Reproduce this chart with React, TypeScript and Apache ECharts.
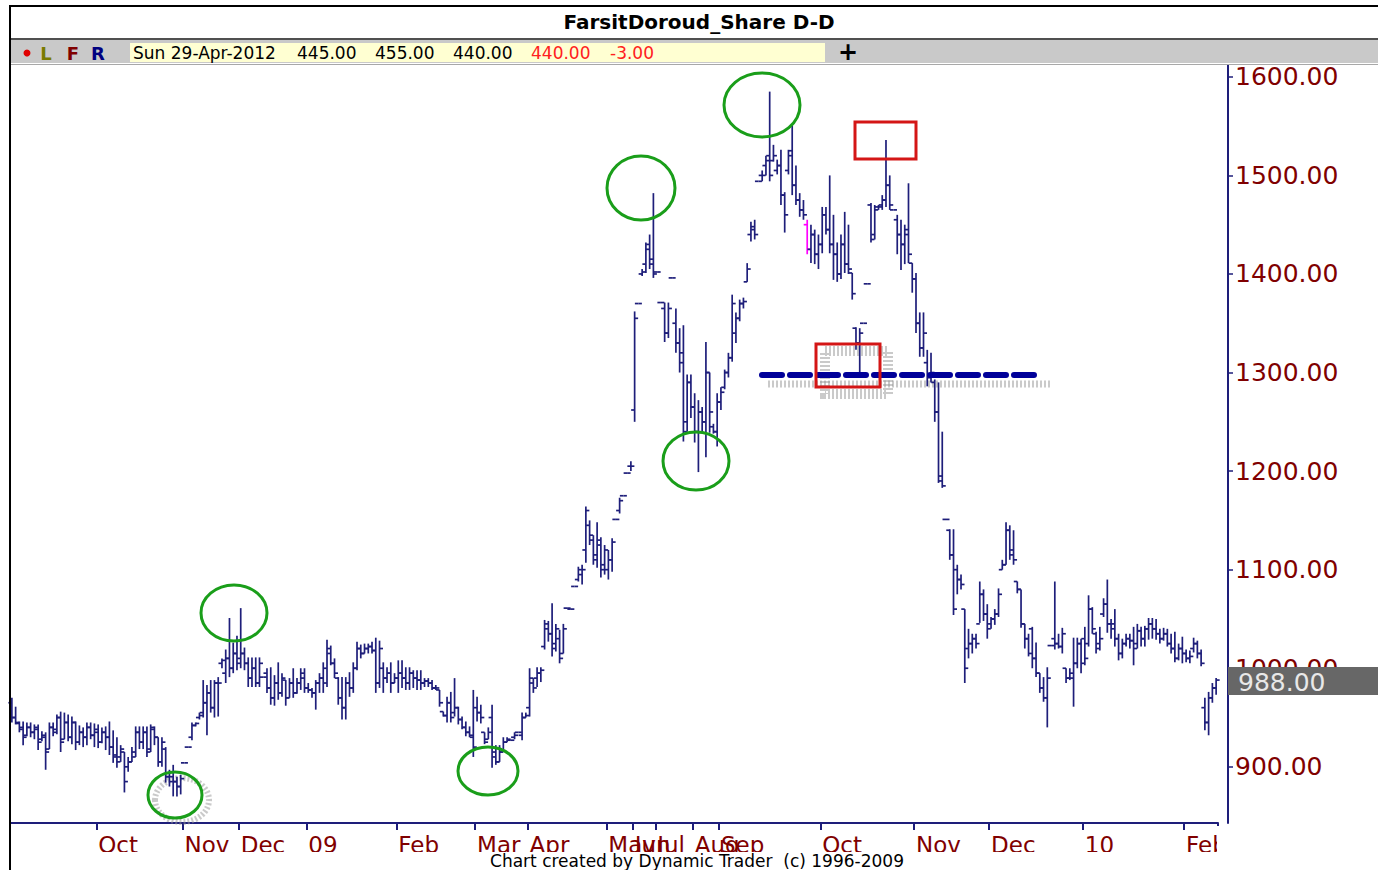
import React, { useEffect, useRef } from 'react';
import * as echarts from 'echarts';

// Daily bars: [open, high, low, close]
const sep2008 = [
  [965, 970, 945, 950], [950, 961, 943, 945], [944, 946, 935, 938], [940, 946, 922, 930], [932, 945, 931, 940],
  [940, 945, 930, 935], [935, 943, 928, 940], [938, 943, 917, 925], [928, 936, 926, 932], [930, 935, 897, 915],
  [918, 945, 918, 940], [940, 945, 931, 938], [935, 953, 933, 950], [950, 956, 915, 925], [928, 955, 928, 945],
  [945, 953, 926, 930], [930, 951, 923, 945], [945, 946, 917, 925], [925, 942, 922, 935], [935, 940, 920, 930],
  [930, 945, 922, 940], [940, 945, 928, 932], [932, 944, 920, 938],
];
const oct2008 = [
  [935, 943, 919, 925], [925, 940, 924, 935], [935, 941, 917, 930], [930, 946, 912, 920], [920, 937, 904, 910],
  [912, 930, 899, 905], [910, 922, 905, 918], [915, 915, 874, 885], [900, 910, 895, 905], [905, 920, 905, 915],
  [910, 941, 910, 935], [935, 941, 918, 925], [925, 941, 918, 935], [935, 941, 910, 915], [918, 943, 915, 940],
  [938, 941, 922, 930], [930, 930, 900, 905], [905, 930, 900, 925], [918, 920, 884, 890], [890, 897, 880, 885],
  [890, 902, 870, 885], [885, 890, 870, 880], [880, 892, 872, 888],
];
const nov2008 = [
  [904, 904, 904, 904], [920, 920, 920, 920], [930, 945, 927, 942], [942, 945, 941, 944], [950, 955, 948, 952],
  [955, 988, 950, 965], [965, 983, 932, 975], [975, 988, 955, 960], [960, 988, 950, 985], [985, 991, 951, 985],
  [1005, 1010, 1000, 1008], [995, 1019, 985, 1010], [1010, 1051, 991, 1000], [1000, 1026, 995, 1015], [1015, 1033, 998, 1005],
];
const dec2008 = [
  [1010, 1061, 1000, 1015], [1015, 1021, 998, 1005], [1005, 1011, 981, 990], [990, 1011, 981, 1000], [1000, 1011, 981, 985],
  [985, 1011, 981, 1005], [991, 991, 991, 991], [995, 1000, 975, 980], [980, 1001, 963, 970], [970, 993, 962, 985],
  [985, 1006, 968, 975], [975, 995, 971, 990], [988, 988, 962, 970], [970, 990, 970, 985], [985, 1000, 970, 975],
  [975, 990, 974, 985], [985, 1000, 978, 995], [990, 1000, 975, 980],
];
const jan2009 = [
  [980, 985, 975, 978], [978, 980, 970, 975], [975, 988, 958, 985], [985, 995, 975, 990], [990, 1006, 975, 1000],
  [985, 1029, 981, 1020], [1015, 1023, 1003, 1005], [1005, 1010, 990, 995], [990, 991, 963, 970], [970, 991, 948, 960],
  [960, 991, 948, 985], [985, 996, 971, 980], [980, 1006, 975, 1000], [1000, 1027, 998, 1020], [1020, 1024, 1010, 1015],
  [1015, 1025, 1015, 1020], [1020, 1025, 1015, 1022], [1022, 1027, 1015, 1018], [1018, 1031, 975, 985], [985, 1028, 980, 1020],
  [1000, 1006, 975, 990], [990, 1001, 985, 995], [995, 1006, 975, 985], [985, 995, 985, 990],
];
const feb2009 = [
  [990, 1008, 975, 995], [995, 1008, 980, 990], [990, 1001, 978, 985], [985, 1001, 978, 995], [995, 998, 980, 990],
  [990, 998, 978, 988], [988, 998, 978, 985], [985, 990, 981, 987], [987, 990, 981, 985], [985, 988, 978, 980],
  [980, 983, 978, 980], [978, 978, 961, 965], [956, 956, 951, 952], [952, 971, 945, 965], [965, 976, 945, 950],
  [955, 990, 951, 960], [960, 961, 943, 948], [948, 951, 938, 940], [940, 946, 931, 935], [935, 941, 930, 932],
  [930, 978, 910, 920],
];
const mar2009 = [
  [960, 971, 946, 955], [955, 963, 944, 950], [935, 935, 923, 925], [928, 940, 928, 935], [950, 963, 899, 910],
  [915, 922, 902, 905], [905, 922, 905, 915], [915, 930, 915, 925], [925, 930, 925, 928], [927, 927, 927, 927],
  [930, 935, 928, 932], [935, 935, 935, 935], [932, 955, 927, 950], [950, 955, 950, 952],
];
const apr2009 = [
  [960, 1000, 951, 990], [985, 990, 975, 980], [990, 1001, 981, 995], [995, 1001, 986, 998], [1022, 1049, 1019, 1045],
  [1040, 1048, 1027, 1035], [1035, 1066, 1012, 1020], [1025, 1045, 1017, 1040], [1030, 1039, 1005, 1010], [1015, 1045, 1015, 1040],
  [1061, 1061, 1061, 1061], [1060, 1060, 1060, 1060], [1083, 1083, 1083, 1083], [1090, 1103, 1088, 1100], [1095, 1105, 1085, 1100],
  [1120, 1164, 1107, 1160], [1145, 1150, 1125, 1135], [1130, 1135, 1105, 1110], [1115, 1148, 1102, 1130], [1125, 1133, 1092, 1100],
  [1105, 1125, 1095, 1120],
];
const may2009 = [
  [1100, 1120, 1090, 1110], [1110, 1132, 1098, 1128], [1151, 1151, 1151, 1151], [1160, 1173, 1157, 1170], [1175, 1175, 1175, 1175],
  [1198, 1198, 1198, 1198], [1205, 1210, 1200, 1205],
];
const jun2009 = [
  [1262, 1362, 1250, 1355], [1370, 1370, 1370, 1370], [1400, 1405, 1398, 1402], [1410, 1432, 1401, 1425], [1430, 1440, 1405, 1410],
  [1415, 1482, 1396, 1400],
];
const jul2009 = [
  [1402, 1402, 1402, 1402], [1371, 1371, 1371, 1371], [1365, 1371, 1331, 1340], [1340, 1371, 1335, 1365], [1396, 1396, 1396, 1396],
  [1350, 1365, 1320, 1330], [1330, 1345, 1300, 1310], [1320, 1348, 1230, 1240], [1250, 1298, 1240, 1290], [1290, 1298, 1254, 1265],
];
const aug2009 = [
  [1265, 1279, 1229, 1240], [1240, 1272, 1199, 1260], [1260, 1265, 1240, 1250], [1250, 1331, 1214, 1300], [1300, 1300, 1239, 1260],
  [1245, 1248, 1238, 1240], [1240, 1279, 1225, 1270],
];
const sep2009 = [
  [1270, 1285, 1262, 1280], [1285, 1303, 1283, 1300], [1300, 1320, 1295, 1315], [1315, 1379, 1311, 1370], [1340, 1361, 1330, 1355],
  [1355, 1374, 1352, 1370], [1370, 1376, 1365, 1372], [1392, 1411, 1392, 1405], [1440, 1453, 1433, 1448], [1445, 1455, 1435, 1440],
  [1494, 1494, 1494, 1494], [1500, 1505, 1494, 1500], [1510, 1520, 1500, 1515], [1520, 1585, 1494, 1500], [1515, 1531, 1514, 1520],
  [1505, 1516, 1501, 1510], [1510, 1526, 1470, 1480], [1480, 1483, 1442, 1460], [1505, 1526, 1501, 1520], [1525, 1551, 1480, 1490],
  [1490, 1510, 1470, 1475], [1475, 1482, 1458, 1465], [1465, 1475, 1455, 1460], [1450, 1455, 1420, 1425], [1425, 1450, 1411, 1440],
  [1440, 1445, 1410, 1420], [1420, 1440, 1405, 1430],
];
const oct2009 = [
  [1430, 1468, 1421, 1460], [1460, 1468, 1440, 1445], [1445, 1500, 1421, 1430], [1430, 1460, 1394, 1420], [1420, 1432, 1392, 1400],
  [1400, 1440, 1395, 1430], [1430, 1463, 1401, 1410], [1410, 1450, 1400, 1405], [1401, 1401, 1374, 1380], [1345, 1346, 1323, 1330],
  [1330, 1345, 1300, 1340], [1350, 1350, 1350, 1350], [1390, 1390, 1390, 1390], [1470, 1472, 1432, 1435], [1440, 1470, 1435, 1465],
  [1468, 1470, 1465, 1468], [1470, 1480, 1465, 1475], [1475, 1536, 1468, 1490], [1490, 1500, 1465, 1470], [1465, 1465, 1465, 1465],
  [1455, 1460, 1420, 1440], [1440, 1455, 1404, 1430], [1430, 1450, 1410, 1440], [1445, 1492, 1411, 1420], [1411, 1411, 1381, 1395],
];
const nov2009 = [
  [1395, 1401, 1340, 1350], [1350, 1361, 1316, 1325], [1325, 1361, 1316, 1340], [1310, 1323, 1286, 1295], [1295, 1320, 1290, 1300],
  [1290, 1293, 1250, 1260], [1260, 1290, 1188, 1195], [1190, 1240, 1183, 1185], [1151, 1151, 1151, 1151], [1140, 1141, 1110, 1115],
  [1115, 1141, 1054, 1060], [1100, 1105, 1075, 1090], [1090, 1095, 1080, 1085], [1060, 1060, 985, 1000], [1020, 1040, 1010, 1025],
  [1025, 1035, 1015, 1030], [1030, 1035, 1020, 1025], [1045, 1088, 1046, 1075], [1075, 1080, 1048, 1055], [1055, 1065, 1030, 1040],
];
const dec2009 = [
  [1045, 1052, 1040, 1050], [1050, 1060, 1044, 1055], [1055, 1081, 1052, 1075], [1100, 1110, 1100, 1105], [1105, 1148, 1105, 1140],
  [1140, 1145, 1110, 1115], [1120, 1140, 1105, 1110], [1088, 1088, 1076, 1080], [1080, 1080, 1041, 1045], [1045, 1045, 1020, 1030],
  [1030, 1035, 1012, 1015], [1040, 1042, 1000, 1010], [1010, 1026, 991, 995], [995, 995, 975, 980], [980, 991, 966, 970],
  [970, 1001, 940, 990], [1023, 1023, 1023, 1023], [1030, 1088, 1019, 1025], [1025, 1035, 1020, 1022], [1022, 1041, 1015, 1035],
  [1000, 1000, 985, 990], [990, 1000, 988, 995], [990, 1031, 961, 1005], [1005, 1031, 1000, 1025], [1025, 1030, 995, 1005],
];
const jan2010 = [
  [1030, 1042, 1003, 1010], [1025, 1074, 1022, 1060], [1060, 1062, 1035, 1040], [1035, 1037, 1015, 1020], [1025, 1042, 1018, 1030],
  [1055, 1071, 1052, 1065], [1065, 1090, 1036, 1045], [1045, 1050, 1030, 1040], [1045, 1060, 1022, 1030], [1030, 1035, 1008, 1015],
  [1015, 1030, 1010, 1025], [1025, 1035, 1022, 1030], [1030, 1035, 1020, 1028], [1028, 1042, 1003, 1020], [1025, 1045, 1020, 1038],
  [1038, 1042, 1022, 1030], [1030, 1043, 1022, 1040], [1040, 1051, 1029, 1045], [1045, 1051, 1030, 1040], [1040, 1050, 1029, 1035],
  [1035, 1040, 1025, 1030], [1030, 1041, 1028, 1035], [1035, 1040, 1022, 1025], [1025, 1035, 1015, 1020], [1020, 1037, 1006, 1010],
  [1010, 1025, 1008, 1020], [1020, 1032, 1005, 1015],
];
const feb2010 = [
  [1015, 1019, 1006, 1010], [1010, 1018, 1005, 1012], [1020, 1031, 1016, 1025], [1025, 1028, 1010, 1015], [1015, 1019, 1002, 1005],
  [960, 970, 937, 945], [945, 976, 932, 970], [970, 985, 965, 980], [980, 990, 973, 988],
];

const monthBars = [
  sep2008, oct2008, nov2008, dec2008, jan2009, feb2009, mar2009, apr2009, may2009,
  jun2009, jul2009, aug2009, sep2009, oct2009, nov2009, dec2009, jan2010, feb2010,
];
const monthLabels = ['', 'Oct', 'Nov', 'Dec', '09', 'Feb', 'Mar', 'Apr', 'May', 'Jun', 'Jul', 'Aug', 'Sep', 'Oct', 'Nov', 'Dec', '10', 'Feb'];
const yTickValues = [900, 1000, 1100, 1200, 1300, 1400, 1500, 1600];
const highlightedBars = [212];
const lastClose = 988;
const headerValues = ['Sun 29-Apr-2012', '445.00', '455.00', '440.00', '440.00', '-3.00'];

const FONT = 'DejaVu Sans';
const NAVY = '#1e1e7a';

export default function App() {
  const ref = useRef<HTMLDivElement>(null);

  useEffect(() => {
    if (!ref.current) return;
    const chart = echarts.init(ref.current, undefined, { renderer: 'svg' });

    const bars: number[][] = [];
    const tickText: string[] = [];
    const cats: string[] = [];
    monthBars.forEach((m, mi) => {
      m.forEach((b, bi) => {
        const idx = bars.length;
        tickText.push(bi === 0 ? monthLabels[mi] : '');
        cats.push('d' + idx);
        bars.push([idx, b[0], b[1], b[2], b[3]]);
      });
    });

    const renderItem = (params: any, api: any) => {
      const idx = api.value(0);
      const pO = api.coord([idx, api.value(1)]);
      const pH = api.coord([idx, api.value(2)]);
      const pL = api.coord([idx, api.value(3)]);
      const pC = api.coord([idx, api.value(4)]);
      const x = pH[0];
      const t = 3.5;
      const color = highlightedBars.includes(idx) ? '#ff00ff' : NAVY;
      const style = { stroke: color, lineWidth: 1.7 };
      return {
        type: 'group',
        children: [
          { type: 'line', shape: { x1: x, y1: pH[1], x2: x, y2: pL[1] }, style },
          { type: 'line', shape: { x1: x - t, y1: pO[1], x2: x, y2: pO[1] }, style },
          { type: 'line', shape: { x1: x, y1: pC[1], x2: x + t, y2: pC[1] }, style },
        ],
      };
    };

    const green = '#1a9e1a';
    const red = '#d41616';
    const shadow = 'rgba(150,150,150,0.5)';
    const ell = (cx: number, cy: number, rx: number, ry: number) => ({
      type: 'ellipse', z: 50, shape: { cx, cy, rx, ry }, style: { fill: 'none', stroke: green, lineWidth: 3 },
    });
    const txt = (text: string, x: number, y: number, fill: string, extra: any = {}) => ({
      type: 'text', z: 60, x, y,
      style: { text, fill, fontFamily: FONT, fontSize: 17, verticalAlign: 'middle', ...extra },
    });

    const headerX = [133, 297, 375, 453, 531, 610];
    const headerColors = ['#000', '#000', '#000', '#000', '#ff2020', '#ff2020'];

    chart.setOption({
      animation: false,
      backgroundColor: '#ffffff',
      grid: { left: 10, right: 160, top: 65, bottom: 47, containLabel: false },
      xAxis: {
        type: 'category',
        data: cats,
        boundaryGap: true,
        axisLine: { show: true, lineStyle: { color: NAVY, width: 2 } },
        axisTick: { show: true, length: 7, interval: (i: number) => tickText[i] !== '', lineStyle: { color: NAVY, width: 2 } },
        axisLabel: {
          interval: (i: number) => tickText[i] !== '',
          formatter: (_v: string, i: number) => tickText[i],
          align: 'left', color: '#800000', fontFamily: FONT, fontSize: 23, margin: 10,
        },
        splitLine: { show: false },
      },
      yAxis: {
        type: 'value',
        position: 'right',
        offset: 10,
        min: 843,
        max: 1612,
        axisLine: { show: true, lineStyle: { color: NAVY, width: 2 } },
        axisTick: { show: true, length: 5, customValues: yTickValues, lineStyle: { color: NAVY, width: 1.5 } },
        axisLabel: {
          customValues: yTickValues,
          formatter: (v: number) => v.toFixed(2),
          color: '#800000', fontFamily: FONT, fontSize: 25, margin: 7,
        },
        splitLine: { show: false },
      },
      series: [
        {
          type: 'custom',
          renderItem,
          data: bars,
          encode: { x: 0, y: [1, 2, 3, 4] },
          z: 10,
          clip: false,
        },
      ],
      graphic: [
        // frame & title
        { type: 'line', z: 70, shape: { x1: 10, y1: 6, x2: 1378, y2: 6 }, style: { stroke: '#000', lineWidth: 2 } },
        { type: 'line', z: 70, shape: { x1: 10, y1: 5, x2: 10, y2: 870 }, style: { stroke: '#000', lineWidth: 2 } },
        { type: 'text', z: 60, x: 699, y: 22, style: { text: 'FarsitDoroud_Share D-D', fill: '#000', fontFamily: FONT, fontSize: 20, fontWeight: 'bold', align: 'center', verticalAlign: 'middle' } },
        { type: 'line', z: 55, shape: { x1: 11, y1: 39, x2: 1378, y2: 39 }, style: { stroke: '#505050', lineWidth: 2 } },
        { type: 'rect', z: 55, shape: { x: 11, y: 40, width: 1367, height: 23 }, style: { fill: '#c9c9c9' } },
        { type: 'line', z: 55, shape: { x1: 11, y1: 64.5, x2: 1378, y2: 64.5 }, style: { stroke: '#a8a8a8', lineWidth: 1 } },
        { type: 'circle', z: 60, shape: { cx: 27, cy: 53, r: 3.5 }, style: { fill: '#e00000' } },
        txt('L', 46, 53, '#7a7a00', { fontWeight: 'bold', fontSize: 18, align: 'center' }),
        txt('F', 73, 53, '#800000', { fontWeight: 'bold', fontSize: 18, align: 'center' }),
        txt('R', 98, 53, '#000080', { fontWeight: 'bold', fontSize: 18, align: 'center' }),
        { type: 'rect', z: 58, shape: { x: 130, y: 43, width: 695, height: 19 }, style: { fill: '#ffffd2' } },
        ...headerValues.map((s, i) => txt(s, headerX[i], 53, headerColors[i])),
        txt('+', 848, 52, '#000', { fontWeight: 'bold', fontSize: 24, align: 'center' }),
        // shadows
        { type: 'ellipse', z: 5, shape: { cx: 182, cy: 800, rx: 27, ry: 22 }, style: { fill: 'none', stroke: shadow, lineWidth: 6, lineDash: [2, 2] } },
        { type: 'rect', z: 5, shape: { x: 825, y: 351, width: 63, height: 43 }, style: { fill: 'none', stroke: shadow, lineWidth: 10, lineDash: [2, 2] } },
        { type: 'line', z: 5, shape: { x1: 768, y1: 384, x2: 1050, y2: 384 }, style: { stroke: shadow, lineWidth: 7, lineDash: [2, 2] } },
        // annotations
        ell(175, 795, 27, 23),
        ell(234, 613, 33, 28),
        ell(488, 771, 30, 24),
        ell(641, 188, 34, 32),
        ell(696, 461, 33, 29),
        ell(762, 105, 38, 32),
        { type: 'rect', z: 50, shape: { x: 855, y: 122, width: 61, height: 37 }, style: { fill: 'none', stroke: red, lineWidth: 3 } },
        { type: 'rect', z: 50, shape: { x: 816, y: 344, width: 64, height: 43 }, style: { fill: 'none', stroke: red, lineWidth: 3 } },
        { type: 'line', z: 49, shape: { x1: 762, y1: 375, x2: 1040, y2: 375 }, style: { stroke: '#000099', lineWidth: 6, lineDash: [20, 8], lineCap: 'round' } },
        // last price box
        { type: 'rect', z: 80, shape: { x: 1228, y: 667, width: 150, height: 28 }, style: { fill: '#676767' } },
        { type: 'text', z: 81, x: 1238, y: 682, style: { text: lastClose.toFixed(2), fill: '#e8e8e8', fontFamily: FONT, fontSize: 25, verticalAlign: 'middle' } },
        // label clipping & footer
        { type: 'rect', z: 80, shape: { x: 11, y: 852, width: 1367, height: 18 }, style: { fill: '#ffffff' } },
        { type: 'rect', z: 80, shape: { x: 1217, y: 826, width: 10, height: 26 }, style: { fill: '#ffffff' } },
        { type: 'text', z: 81, x: 697, y: 861, style: { text: 'Chart created by Dynamic Trader  (c) 1996-2009', fill: '#000', fontFamily: FONT, fontSize: 17, align: 'center', verticalAlign: 'middle' } },
      ],
    });

    return () => chart.dispose();
  }, []);

  return (
    <div
      ref={ref}
      style={{ position: 'fixed', left: 0, top: 0, width: 1378, height: 870, background: '#ffffff' }}
    />
  );
}
